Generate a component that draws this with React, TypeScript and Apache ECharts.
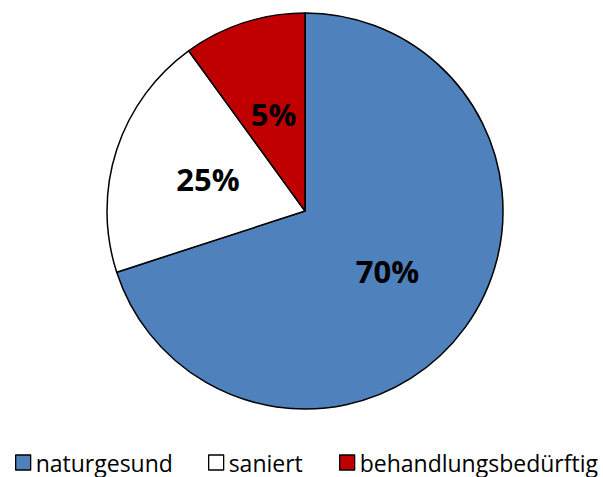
import React, { useEffect, useRef } from "react";
import * as echarts from "echarts";

const categories = ["naturgesund", "saniert", "behandlungsbedürftig"];
const sliceValues = [70, 20, 10];
const labelTexts = ["70%", "25%", "5%"];
const colors = ["#4F81BD", "#FFFFFF", "#C00000"];
const legendLefts = [15, 208, 339];

export default function App() {
  const ref = useRef<HTMLDivElement>(null);
  useEffect(() => {
    if (!ref.current) return;
    const chart = echarts.init(ref.current, undefined, { renderer: "svg" });
    chart.setOption({
      animation: false,
      backgroundColor: "#FFFFFF",
      legend: categories.map((name, i) => ({
        top: 451,
        left: legendLefts[i],
        padding: 0,
        icon: "rect",
        itemWidth: 15,
        itemHeight: 15,
        textStyle: {
          fontFamily: "Open Sans",
          fontSize: 23,
          lineHeight: 23,
          color: "#000",
        },
        itemStyle: { borderColor: "#000", borderWidth: 1.3 },
        data: [name],
      })),
      series: [
        {
          type: "pie",
          center: [305, 211],
          radius: 198,
          startAngle: 90,
          clockwise: true,
          label: {
            show: true,
            position: "inside",
            fontFamily: "Open Sans",
            fontWeight: "bold",
            fontSize: 31,
            color: "#000",
            formatter: (p: any) => labelTexts[p.dataIndex],
          },
          labelLine: { show: false },
          itemStyle: { borderColor: "#000", borderWidth: 1.5 },
          emphasis: { disabled: true },
          data: categories.map((name, i) => ({
            name,
            value: sliceValues[i],
            itemStyle: { color: colors[i] },
          })),
        },
      ],
    });
    return () => chart.dispose();
  }, []);
  return (
    <div
      ref={ref}
      style={{ position: "absolute", left: 0, top: 0, width: 603, height: 477 }}
    />
  );
}
